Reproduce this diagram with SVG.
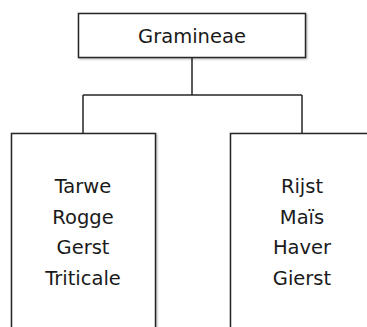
<svg xmlns="http://www.w3.org/2000/svg" width="367" height="327" viewBox="0 0 367 327">
  <defs>
    <filter id="shadow" x="-10%" y="-10%" width="130%" height="130%">
      <feDropShadow dx="1" dy="1" stdDeviation="0.8" flood-color="#000" flood-opacity="0.3"/>
    </filter>
  </defs>
  <style>
    .box { fill: #ffffff; stroke: #262626; stroke-width: 1.5; filter: url(#shadow); }
    .link { fill: none; stroke: #262626; stroke-width: 1.5; }
    .label { font-family: "DejaVu Sans", Verdana, sans-serif; font-size: 19.5px; fill: #1a1a1a; text-anchor: middle; }
  </style>
  <rect width="367" height="327" fill="#ffffff"/>

  <!-- tree connectors -->
  <g id="connectors">
    <path class="link" d="M192 57 V95 M83 95 H302 M83 95 V133 M302 95 V133"/>
  </g>

  <!-- root node -->
  <g id="node-gramineae">
    <rect class="box" x="78.5" y="13.5" width="227" height="44"/>
    <text class="label" x="192" y="43">Gramineae</text>
  </g>

  <!-- left child -->
  <g id="node-left">
    <rect class="box" x="11.5" y="133.5" width="144" height="210"/>
    <text class="label" x="83" y="193">Tarwe</text>
    <text class="label" x="83" y="223.5">Rogge</text>
    <text class="label" x="83" y="254">Gerst</text>
    <text class="label" x="83" y="284.5">Triticale</text>
  </g>

  <!-- right child -->
  <g id="node-right">
    <rect class="box" x="230.5" y="133.5" width="144" height="210"/>
    <text class="label" x="302" y="193">Rijst</text>
    <text class="label" x="302" y="223.5">Maïs</text>
    <text class="label" x="302" y="254">Haver</text>
    <text class="label" x="302" y="284.5">Gierst</text>
  </g>
</svg>
